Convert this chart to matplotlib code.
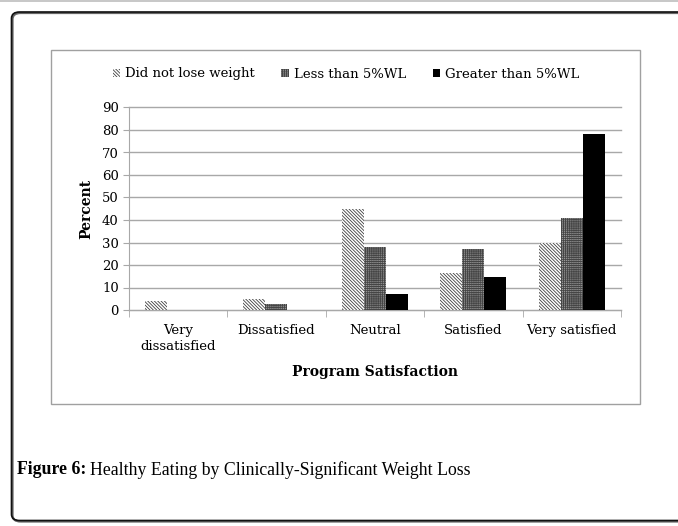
import matplotlib
matplotlib.use("Agg")
import matplotlib.pyplot as plt
import numpy as np
from matplotlib.patches import FancyBboxPatch, Rectangle, Patch

# Survey results: share of each weight-loss group by program satisfaction
categories = ["Very\ndissatisfied", "Dissatisfied", "Neutral", "Satisfied", "Very satisfied"]
no_loss = [4, 5, 45, 16.5, 30]
under_5 = [0, 2.5, 28, 27, 41]
over_5 = [0, 0, 7, 14.5, 78]
series_names = ["Did not lose weight", "Less than 5%WL", "Greater than 5%WL"]
y_ticks = list(range(0, 100, 10))

W, H = 678, 526
plt.rcParams["hatch.linewidth"] = 0.6
plt.rcParams["font.family"] = "DejaVu Serif"

fig = plt.figure(figsize=(W / 100, H / 100), dpi=100)


def px_box(x0, y0, x1, y1):
    # pixel box (top-left origin) -> figure fraction rect
    return [x0 / W, 1 - y1 / H, (x1 - x0) / W, (y1 - y0) / H]


# outer rounded frame and the thin rule above it
fig.patches.append(Rectangle((0, 1 - 1.5 / H), 1, 1.2 / H, transform=fig.transFigure,
                             facecolor="#c8c8c8", edgecolor="none"))
fig.patches.append(FancyBboxPatch((12.5 / W, 1 - 521.5 / H), (W + 20) / W, 508.5 / H,
                                  boxstyle="round,pad=0,rounding_size=0.012",
                                  transform=fig.transFigure, facecolor="none",
                                  edgecolor="#666666", linewidth=1.6))
fig.patches.append(FancyBboxPatch((11.5 / W, 1 - 520.5 / H), (W + 20) / W, 508.5 / H,
                                  boxstyle="round,pad=0,rounding_size=0.012",
                                  transform=fig.transFigure, facecolor="none",
                                  edgecolor="#111111", linewidth=1.2))
# inner chart frame
fig.patches.append(Rectangle((51 / W, 1 - 403.5 / H), (639.5 - 51) / W, (403.5 - 50) / H,
                             transform=fig.transFigure, facecolor="none",
                             edgecolor="#a0a0a0", linewidth=1.0))

ax = fig.add_axes(px_box(128.5, 107.5, 621, 310))
x = np.arange(len(categories))
bw = 0.223

hatch_a = "\\" * 10
hatch_b = "+" * 8
ax.bar(x - bw, no_loss, bw, facecolor="white", edgecolor="#404040",
       hatch=hatch_a, linewidth=0, zorder=3)
ax.bar(x, under_5, bw, facecolor="#9a9a9a", edgecolor="#454545",
       hatch=hatch_b, linewidth=0, zorder=3)
ax.bar(x + bw, over_5, bw, facecolor="black", edgecolor="black",
       linewidth=0, zorder=3)

ax.set_ylim(0, 90)
ax.set_xlim(-0.5, len(categories) - 0.5)
ax.set_yticks(y_ticks)
ax.yaxis.grid(True, color="#a8a8a8", linewidth=1.0, zorder=0)
for gl in ax.get_ygridlines():
    gl.set_clip_on(False)
ax.set_axisbelow(True)
for side in ["top", "right"]:
    ax.spines[side].set_visible(False)
ax.spines["left"].set_color("#a8a8a8")
ax.spines["bottom"].set_color("#a8a8a8")
ax.tick_params(axis="y", length=4, color="#a8a8a8", labelsize=9.5, pad=3)

ax.set_xticks(x)
ax.set_xticklabels(categories, fontsize=9.5, linespacing=1.3)
ax.tick_params(axis="x", which="major", length=0, pad=10)
ax.set_xticks(np.arange(-0.5, len(categories), 1.0), minor=True)
ax.tick_params(axis="x", which="minor", length=5, color="#a8a8a8")

ax.set_ylabel("Percent", fontsize=10, fontweight="bold", labelpad=6)
ax.set_xlabel("Program Satisfaction", fontsize=10, fontweight="bold", labelpad=9)

handles = [
    Patch(facecolor="white", edgecolor="#404040", hatch=hatch_a, linewidth=0),
    Patch(facecolor="#9a9a9a", edgecolor="#454545", hatch=hatch_b, linewidth=0),
    Patch(facecolor="black", edgecolor="black", linewidth=0),
]
fig.legend(handles, series_names, loc="center", bbox_to_anchor=(346 / W, 1 - 74 / H),
           ncol=3, frameon=False, fontsize=9.5, handlelength=0.6, handleheight=0.6,
           handletextpad=0.35, columnspacing=2.0)

cap = fig.text(17 / W, 1 - 470 / H, "Figure 6:", fontsize=12.8, fontweight="bold",
               family="Liberation Serif", va="center", ha="left")
fig.canvas.draw()
bb = cap.get_window_extent()
fig.text((bb.x1 + 4) / W, 1 - 470 / H, "Healthy Eating by Clinically-Significant Weight Loss",
         fontsize=12.8, family="Liberation Serif", va="center", ha="left")

fig.savefig("out.png", dpi=100)
